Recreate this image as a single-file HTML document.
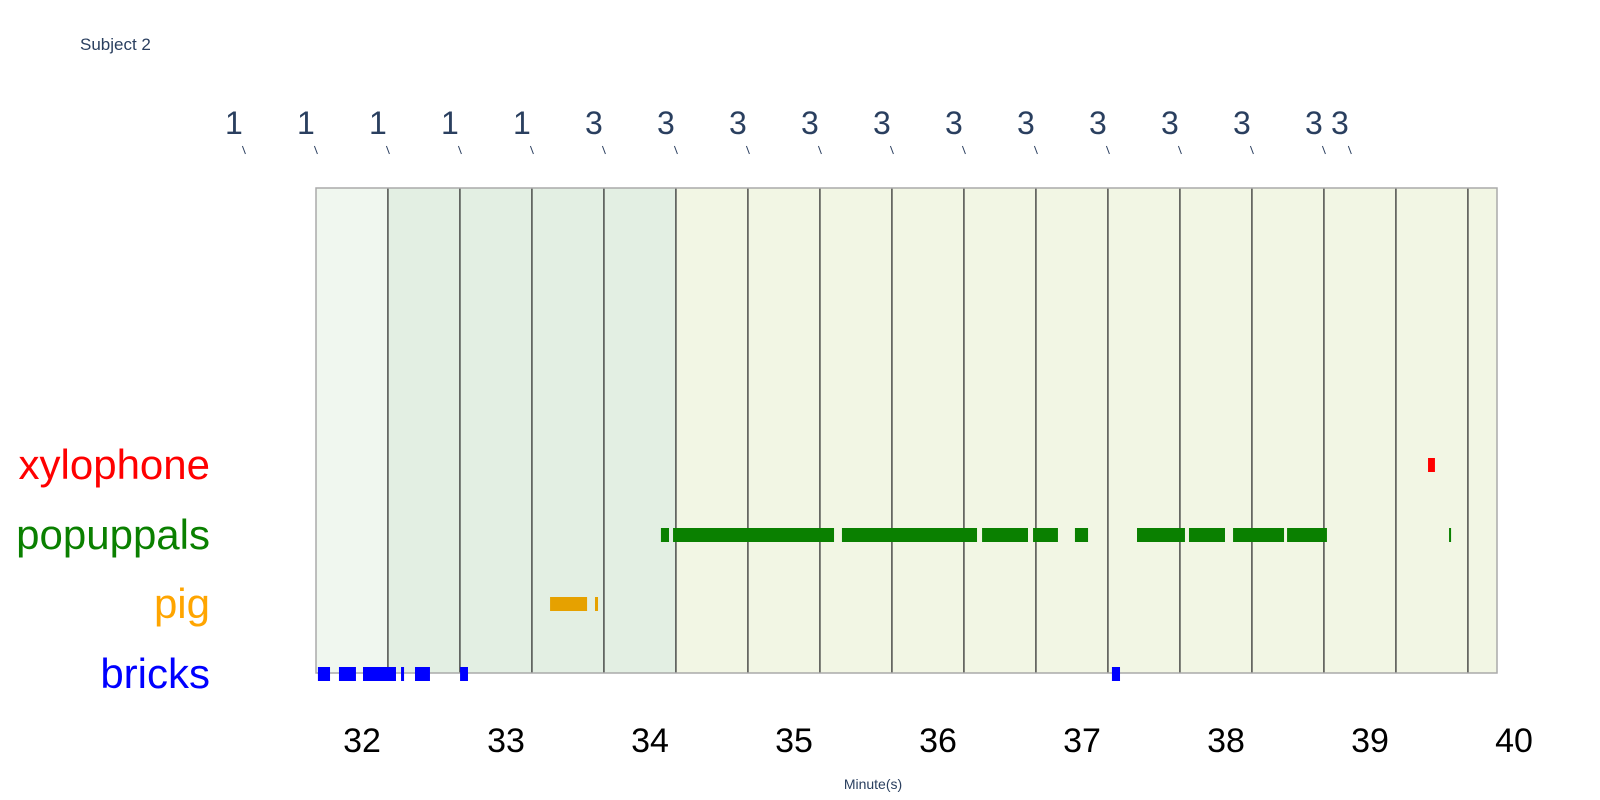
<!DOCTYPE html>
<html><head><meta charset="utf-8"><style>
html,body{margin:0;padding:0;background:#fff;}
svg{display:block;font-family:"Liberation Sans",sans-serif;}
</style></head><body>
<svg id="chart" width="1600" height="800" viewBox="0 0 1600 800">
<text x="80" y="50" font-size="17" fill="#2a3f5f">Subject 2</text>
<g id="bands"></g><g id="vlines"></g>
<rect x="316" y="188" width="1181" height="485" fill="none" stroke="#aaa" stroke-width="1.5"/>
<g id="bars"></g><g id="annots"></g><g id="xticks"></g><g id="ylabels"></g>
<text x="873" y="789" font-size="14" fill="#2a3f5f" text-anchor="middle">Minute(s)</text>
</svg>
<script>
const xTicks=[32,33,34,35,36,37,38,39,40];
const rows=["bricks","pig","popuppals","xylophone"];
const rowColors=["#0000ff","#e6a100","#0a8000","#ff0000"];
const labelColors=["#0000ff","#ffa500","#0a8000","#ff0000"];
const bricksSeg=[[31.694,31.778],[31.840,31.958],[32.007,32.236],[32.271,32.292],[32.368,32.472],[32.681,32.736],[37.208,37.264]];
const pigSeg=[[33.306,33.563],[33.618,33.639]];
const popSeg=[[34.076,34.132],[34.160,35.278],[35.333,36.271],[36.306,36.625],[36.660,36.833],[36.951,37.042],[37.382,37.715],[37.743,37.993],[38.049,38.403],[38.424,38.701],[39.549,39.563]];
const xyloSeg=[[39.403,39.451]];
const bandStarts=[31.68,32.18,32.68,33.18,33.68,34.18,34.68,35.18,35.68,36.18,36.68,37.18,37.68,38.18,38.68,39.18,39.68];
const bandKinds=[0,1,1,1,1,2,2,2,2,2,2,2,2,2,2,2,2];
const annotTimes=[31.18,31.68,32.18,32.68,33.18,33.68,34.18,34.68,35.18,35.68,36.18,36.68,37.18,37.68,38.18,38.68,38.86];
const annotValues=[1,1,1,1,1,3,3,3,3,3,3,3,3,3,3,3,3];
const xMin=31.68,xMax=39.88;
const X=t=>362+(t-32)*144;
const Y=i=>[674,604,535,465][i];
const NS="http://www.w3.org/2000/svg";
function mk(tag,attrs,parent){const e=document.createElementNS(NS,tag);for(const k in attrs)e.setAttribute(k,attrs[k]);document.getElementById(parent).appendChild(e);return e;}
const bandFill=["#f0f7ef","#e3efe3","#f2f6e4"];
bandStarts.forEach((s,i)=>{const e=Math.min(i+1<bandStarts.length?bandStarts[i+1]:xMax,xMax);
 const r=mk('rect',{x:X(s),y:188,width:X(e)-X(s),height:485,fill:bandFill[bandKinds[i]]},'bands');
 
 
 if(i>0){const l=mk('line',{x1:X(s),x2:X(s),y1:188,y2:673,stroke:'#333','stroke-width':1.3},'vlines');
 
 }
});
const segs=[bricksSeg,pigSeg,popSeg,xyloSeg];
segs.forEach((arr,ri)=>arr.forEach(s=>{
 const r=mk('rect',{x:X(s[0]),y:Y(ri)-7,width:Math.max(X(s[1])-X(s[0]),2),height:14,fill:rowColors[ri]},'bars');
 
 
}));
annotTimes.forEach((t,i)=>{const x=X(t);
 const tx=mk('text',{x:x-10,y:134,'font-size':32,fill:'#2a3f5f','text-anchor':'middle'},'annots');tx.textContent=annotValues[i];
 
 
 const l=mk('line',{x1:x-1.5,y1:146,x2:x+1.5,y2:154,stroke:'#2a3f5f','stroke-width':1},'annots');
 
 
});
xTicks.forEach(v=>{const tx=mk('text',{x:X(v),y:752,'font-size':34,fill:'#000','text-anchor':'middle'},'xticks');tx.textContent=v;
 
 });
rows.forEach((n,i)=>{const tx=mk('text',{x:210,y:Y(i)+14,'font-size':42,fill:labelColors[i],'text-anchor':'end'},'ylabels');tx.textContent=n;
 
 });
</script>
</body></html>
